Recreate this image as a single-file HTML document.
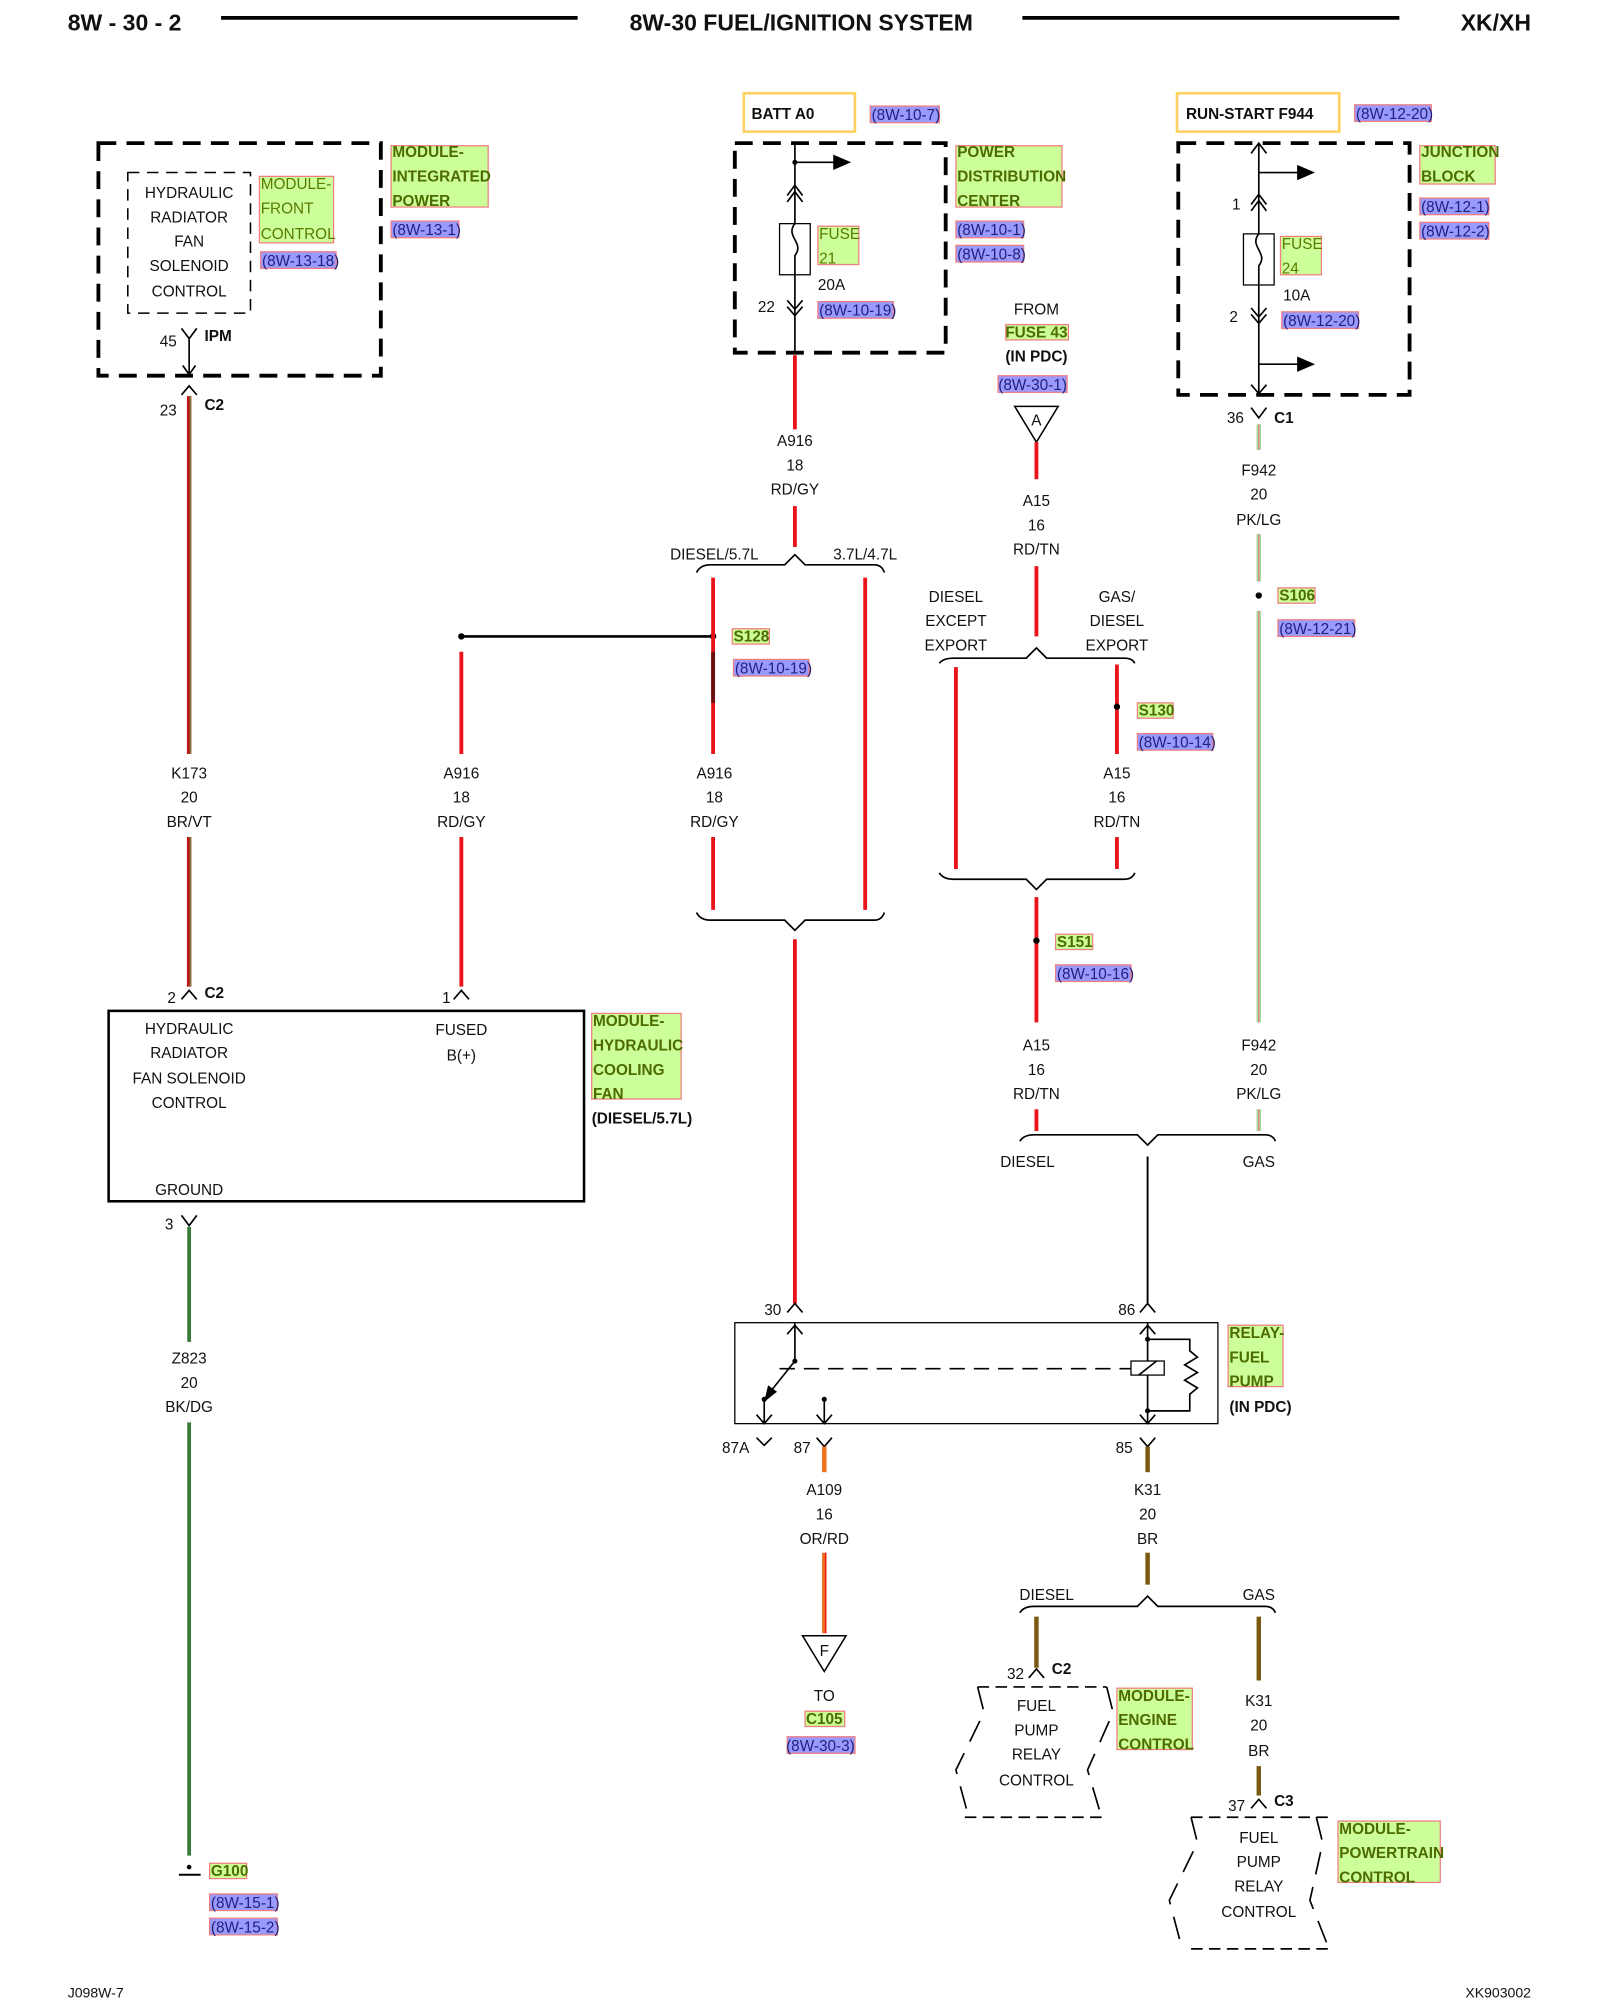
<!DOCTYPE html>
<html><head><meta charset="utf-8"><style>
html,body{margin:0;padding:0;background:#fff}
svg{display:block}
text{font-family:"Liberation Sans",Arial,sans-serif;font-size:12px;fill:#111}
.c{text-anchor:middle}
.b{font-weight:bold}
.h{font-size:18px;font-weight:bold}
.g{fill:#4d6b00;font-weight:bold}
.gn{fill:#5a7a00}
.bl{fill:#22227a}
.gb{fill:#ccff99;stroke:#f08080;stroke-width:1}
.bb{fill:#9999ff;stroke:#f08080;stroke-width:1}
.k{stroke:#000;fill:none;stroke-width:1.3}
.d{stroke:#000;fill:none;stroke-width:3;stroke-dasharray:14 8}
.dt{stroke:#000;fill:none;stroke-width:1.2;stroke-dasharray:9 6}
.r{stroke:#e8141a;stroke-width:3;fill:none}
.br{stroke:#7a5a10;stroke-width:3.5;fill:none}
.or{stroke:#f07020;stroke-width:3.5;fill:none}
.gr{stroke:#3a7a3a;stroke-width:3;fill:none}
.pk{stroke:#9fd89f;stroke-width:3.5;fill:none}
</style></head><body>
<svg width="1600" height="2000" viewBox="0 0 1252 1565" preserveAspectRatio="none" xmlns="http://www.w3.org/2000/svg">
<text x="53" y="24" class="h">8W - 30 - 2</text>
<line x1="173" y1="14" x2="452" y2="14" stroke="#000" stroke-width="3"/>
<text x="627" y="24" class="h c">8W-30 FUEL/IGNITION SYSTEM</text>
<line x1="800" y1="14" x2="1095" y2="14" stroke="#000" stroke-width="3"/>
<text x="1198" y="24" class="h" text-anchor="end">XK/XH</text>
<text x="53" y="1563" style="font-size:11px">J098W-7</text>
<text x="1198" y="1563" style="font-size:11px" text-anchor="end">XK903002</text>

<rect x="77" y="112" width="221" height="182" class="d"/>
<rect x="100" y="135" width="96" height="110" class="dt"/>
<text x="148" y="155" class="c">HYDRAULIC</text><text x="148" y="174" class="c">RADIATOR</text><text x="148" y="193" class="c">FAN</text><text x="148" y="212" class="c">SOLENOID</text><text x="148" y="232" class="c">CONTROL</text>
<rect x="203" y="138" width="58" height="52" class="gb"/>
<text x="204" y="148" class="gn">MODULE-</text><text x="204" y="167" class="gn">FRONT</text><text x="204" y="187" class="gn">CONTROL</text>
<rect x="204" y="197" width="59" height="13" class="bb"/><text x="205" y="208" class="bl">(8W-13-18)</text>
<rect x="306" y="114" width="76" height="48" class="gb"/>
<text x="307" y="123" class="g">MODULE-</text><text x="307" y="142" class="g">INTEGRATED</text><text x="307" y="161" class="g">POWER</text>
<rect x="306" y="173" width="53" height="13" class="bb"/><text x="307" y="184" class="bl">(8W-13-1)</text>
<path d="M142 257 L148 265 L154 257 M148 265 V292 M143 286 L148 293 L153 286" class="k"/>
<text x="125" y="271">45</text><text x="160" y="267" class="b">IPM</text>
<path d="M142 309 L148 302 L154 309" class="k"/>
<text x="125" y="325">23</text><text x="160" y="321" class="b">C2</text>
<line x1="148" y1="310" x2="148" y2="590" stroke="#c0181a" stroke-width="3.5"/>
<line x1="149" y1="310" x2="149" y2="590" stroke="#6a8a3a" stroke-width="1"/>
<text x="148" y="609" class="c">K173</text><text x="148" y="628" class="c">20</text><text x="148" y="647" class="c">BR/VT</text>
<line x1="148" y1="655" x2="148" y2="772" stroke="#c0181a" stroke-width="3.5"/>
<line x1="149" y1="655" x2="149" y2="772" stroke="#6a8a3a" stroke-width="1"/>
<path d="M142 782 L148 775 L154 782" class="k"/>
<text x="131" y="785">2</text><text x="160" y="781" class="b">C2</text>

<rect x="85" y="791" width="372" height="149" fill="none" stroke="#000" stroke-width="2"/>
<text x="148" y="809" class="c">HYDRAULIC</text><text x="148" y="828" class="c">RADIATOR</text><text x="148" y="848" class="c">FAN SOLENOID</text><text x="148" y="867" class="c">CONTROL</text>
<text x="148" y="935" class="c">GROUND</text>
<text x="361" y="810" class="c">FUSED</text><text x="361" y="830" class="c">B(+)</text>
<rect x="463" y="793" width="70" height="67" class="gb"/>
<text x="464" y="803" class="g">MODULE-</text><text x="464" y="822" class="g">HYDRAULIC</text><text x="464" y="841" class="g">COOLING</text><text x="464" y="860" class="g">FAN</text>
<text x="463" y="879" class="b">(DIESEL/5.7L)</text>
<path d="M142 951 L148 959 L154 951" class="k"/>
<text x="129" y="962">3</text>
<line x1="148" y1="960" x2="148" y2="1050" class="gr"/>
<text x="148" y="1067" class="c">Z823</text><text x="148" y="1086" class="c">20</text><text x="148" y="1105" class="c">BK/DG</text>
<line x1="148" y1="1113" x2="148" y2="1452" class="gr"/>
<line x1="140" y1="1467" x2="157" y2="1467" stroke="#000" stroke-width="1.5"/>
<circle cx="148" cy="1461" r="1.8"/>
<rect x="164" y="1458" width="29" height="12" class="gb"/><text x="165" y="1468" class="g">G100</text>
<rect x="164" y="1482" width="53" height="13" class="bb"/><text x="165" y="1493" class="bl">(8W-15-1)</text>
<rect x="164" y="1501" width="53" height="13" class="bb"/><text x="165" y="1512" class="bl">(8W-15-2)</text>

<circle cx="361" cy="498" r="2.5"/>
<line x1="361" y1="498" x2="558" y2="498" stroke="#000" stroke-width="2"/>
<circle cx="558" cy="498" r="2.5"/>
<line x1="361" y1="510" x2="361" y2="590" class="r"/>
<text x="361" y="609" class="c">A916</text><text x="361" y="628" class="c">18</text><text x="361" y="647" class="c">RD/GY</text>
<line x1="361" y1="655" x2="361" y2="772" class="r"/>
<path d="M355 782 L361 775 L367 782" class="k"/>
<text x="346" y="785">1</text>

<rect x="582" y="73" width="87" height="30" fill="none" stroke="#ffd060" stroke-width="2"/>
<text x="588" y="93" class="b">BATT A0</text>
<rect x="681" y="83" width="54" height="13" class="bb"/><text x="682" y="94" class="bl">(8W-10-7)</text>
<rect x="575" y="112" width="165" height="164" class="d"/>
<path d="M622 112 V276" class="k"/>
<circle cx="622" cy="127" r="2"/>
<path d="M622 127 H656" class="k"/><path d="M652 121 L666 127 L652 133 Z"/>
<path d="M616 153 L622 145 L628 153 M616 158 L622 150 L628 158" class="k"/>
<rect x="610" y="175" width="24" height="40" fill="#fff" stroke="#000" stroke-width="1"/>
<path d="M622 175 C614 185 630 190 622 200 V215" class="k"/>
<rect x="640" y="177" width="32" height="30" class="gb"/><text x="641" y="187" class="gn">FUSE</text><text x="641" y="206" class="gn">21</text>
<text x="640" y="227">20A</text>
<rect x="640" y="236" width="59" height="13" class="bb"/><text x="641" y="247" class="bl">(8W-10-19)</text>
<path d="M616 235 L622 242 L628 235 M616 240 L622 247 L628 240" class="k"/>
<text x="593" y="244">22</text>
<rect x="748" y="114" width="83" height="48" class="gb"/>
<text x="749" y="123" class="g">POWER</text><text x="749" y="142" class="g">DISTRIBUTION</text><text x="749" y="161" class="g">CENTER</text>
<rect x="748" y="173" width="53" height="13" class="bb"/><text x="749" y="184" class="bl">(8W-10-1)</text>
<rect x="748" y="192" width="53" height="13" class="bb"/><text x="749" y="203" class="bl">(8W-10-8)</text>

<line x1="622" y1="278" x2="622" y2="336" class="r"/>
<text x="622" y="349" class="c">A916</text><text x="622" y="368" class="c">18</text><text x="622" y="387" class="c">RD/GY</text>
<line x1="622" y1="396" x2="622" y2="428" class="r"/>
<path d="M545 448 Q548 442 556 442 H614 L622 434 L630 442 H684 Q690 442 692 448" class="k"/>
<text x="559" y="438" class="c">DIESEL/5.7L</text><text x="677" y="438" class="c">3.7L/4.7L</text>
<line x1="558" y1="452" x2="558" y2="590" class="r"/>
<line x1="558" y1="510" x2="558" y2="550" stroke="#6a1010" stroke-width="3"/>
<line x1="677" y1="452" x2="677" y2="712" class="r"/>
<rect x="573" y="492" width="29" height="12" class="gb"/><text x="574" y="502" class="g">S128</text>
<rect x="574" y="516" width="59" height="13" class="bb"/><text x="575" y="527" class="bl">(8W-10-19)</text>
<text x="559" y="609" class="c">A916</text><text x="559" y="628" class="c">18</text><text x="559" y="647" class="c">RD/GY</text>
<line x1="558" y1="655" x2="558" y2="712" class="r"/>
<path d="M545 714 Q548 720 556 720 H614 L622 728 L630 720 H684 Q690 720 692 714" class="k"/>
<line x1="622" y1="735" x2="622" y2="1020" class="r"/>
<path d="M616 1027 L622 1020 L628 1027" class="k"/>
<text x="598" y="1029">30</text>

<text x="811" y="246" class="c">FROM</text>
<rect x="787" y="254" width="49" height="12" class="gb"/><text x="811" y="264" class="g c">FUSE 43</text>
<text x="811" y="283" class="b c">(IN PDC)</text>
<rect x="781" y="294" width="54" height="13" class="bb"/><text x="808" y="305" class="bl c">(8W-30-1)</text>
<path d="M794 318 H828 L811 346 Z" fill="#fff" stroke="#000" stroke-width="1.2"/>
<text x="811" y="333" class="c">A</text>
<line x1="811" y1="346" x2="811" y2="375" class="r"/>
<text x="811" y="396" class="c">A15</text><text x="811" y="415" class="c">16</text><text x="811" y="434" class="c">RD/TN</text>
<line x1="811" y1="443" x2="811" y2="498" class="r"/>
<path d="M735 519 Q738 515 746 515 H803 L811 507 L819 515 H880 Q886 515 888 519" class="k"/>
<text x="748" y="471" class="c">DIESEL</text><text x="748" y="490" class="c">EXCEPT</text><text x="748" y="509" class="c">EXPORT</text>
<text x="874" y="471" class="c">GAS/</text><text x="874" y="490" class="c">DIESEL</text><text x="874" y="509" class="c">EXPORT</text>
<line x1="748" y1="522" x2="748" y2="680" class="r"/>
<line x1="874" y1="520" x2="874" y2="590" class="r"/>
<circle cx="874" cy="553" r="2.5"/>
<rect x="890" y="550" width="28" height="12" class="gb"/><text x="891" y="560" class="g">S130</text>
<rect x="890" y="574" width="59" height="13" class="bb"/><text x="891" y="585" class="bl">(8W-10-14)</text>
<text x="874" y="609" class="c">A15</text><text x="874" y="628" class="c">16</text><text x="874" y="647" class="c">RD/TN</text>
<line x1="874" y1="655" x2="874" y2="680" class="r"/>
<path d="M735 683 Q738 688 746 688 H803 L811 696 L819 688 H880 Q886 688 888 683" class="k"/>
<line x1="811" y1="702" x2="811" y2="800" class="r"/>
<circle cx="811" cy="736" r="2.5"/>
<rect x="826" y="731" width="29" height="12" class="gb"/><text x="827" y="741" class="g">S151</text>
<rect x="826" y="755" width="59" height="13" class="bb"/><text x="827" y="766" class="bl">(8W-10-16)</text>
<text x="811" y="822" class="c">A15</text><text x="811" y="841" class="c">16</text><text x="811" y="860" class="c">RD/TN</text>
<line x1="811" y1="868" x2="811" y2="885" class="r"/>

<rect x="921" y="73" width="127" height="30" fill="none" stroke="#ffd060" stroke-width="2"/>
<text x="928" y="93" class="b">RUN-START F944</text>
<rect x="1060" y="82" width="60" height="13" class="bb"/><text x="1061" y="93" class="bl">(8W-12-20)</text>
<rect x="922" y="112" width="181" height="197" class="d"/>
<path d="M985 112 V309" class="k"/>
<path d="M979 120 L985 112 L991 120" class="k"/>
<path d="M985 135 H1018" class="k"/><path d="M1015 129 L1029 135 L1015 141 Z"/>
<path d="M979 160 L985 152 L991 160 M979 165 L985 157 L991 165" class="k"/>
<text x="964" y="164">1</text>
<rect x="973" y="183" width="24" height="40" fill="#fff" stroke="#000" stroke-width="1"/>
<path d="M985 183 C977 193 993 198 985 208 V223" class="k"/>
<rect x="1002" y="185" width="32" height="30" class="gb"/><text x="1003" y="195" class="gn">FUSE</text><text x="1003" y="214" class="gn">24</text>
<text x="1004" y="235">10A</text>
<path d="M979 241 L985 248 L991 241 M979 246 L985 253 L991 246" class="k"/>
<text x="962" y="252">2</text>
<rect x="1003" y="244" width="60" height="13" class="bb"/><text x="1004" y="255" class="bl">(8W-12-20)</text>
<path d="M985 285 H1018" class="k"/><path d="M1015 279 L1029 285 L1015 291 Z"/>
<path d="M979 301 L985 308 L991 301" class="k"/>
<rect x="1111" y="114" width="59" height="30" class="gb"/><text x="1112" y="123" class="g">JUNCTION</text><text x="1112" y="142" class="g">BLOCK</text>
<rect x="1111" y="155" width="54" height="13" class="bb"/><text x="1112" y="166" class="bl">(8W-12-1)</text>
<rect x="1111" y="174" width="54" height="13" class="bb"/><text x="1112" y="185" class="bl">(8W-12-2)</text>
<path d="M979 319 L985 327 L991 319" class="k"/>
<text x="960" y="331">36</text><text x="997" y="331" class="b">C1</text>
<line x1="985" y1="332" x2="985" y2="352" class="pk"/><line x1="985" y1="332" x2="985" y2="352" stroke="#f08080" stroke-width="1"/>
<text x="985" y="372" class="c">F942</text><text x="985" y="391" class="c">20</text><text x="985" y="411" class="c">PK/LG</text>
<line x1="985" y1="418" x2="985" y2="455" class="pk"/><line x1="985" y1="418" x2="985" y2="455" stroke="#f08080" stroke-width="1"/>
<circle cx="985" cy="466" r="2.5"/>
<rect x="1000" y="460" width="29" height="12" class="gb"/><text x="1001" y="470" class="g">S106</text>
<rect x="1000" y="485" width="60" height="13" class="bb"/><text x="1001" y="496" class="bl">(8W-12-21)</text>
<line x1="985" y1="478" x2="985" y2="800" class="pk"/><line x1="985" y1="478" x2="985" y2="800" stroke="#f08080" stroke-width="1"/>
<text x="985" y="822" class="c">F942</text><text x="985" y="841" class="c">20</text><text x="985" y="860" class="c">PK/LG</text>
<line x1="985" y1="868" x2="985" y2="885" class="pk"/><line x1="985" y1="868" x2="985" y2="885" stroke="#f08080" stroke-width="1"/>
<path d="M798 893 Q801 888 809 888 H890 L898 896 L906 888 H990 Q996 888 998 893" class="k"/>
<text x="804" y="913" class="c">DIESEL</text><text x="985" y="913" class="c">GAS</text>
<line x1="898" y1="905" x2="898" y2="1020" stroke="#000" stroke-width="1.5"/>
<path d="M892 1027 L898 1020 L904 1027" class="k"/>
<text x="875" y="1029">86</text>

<rect x="575" y="1035" width="378" height="79" fill="none" stroke="#000" stroke-width="1"/>
<path d="M622 1035 V1065 M616 1044 L622 1037 L628 1044" class="k"/>
<circle cx="622" cy="1065" r="2"/>
<path d="M622 1065 L602 1090" class="k"/><path d="M598 1097 L601 1084 L608 1089 Z"/>
<circle cx="598" cy="1095" r="2"/>
<path d="M598 1095 V1114 M592 1107 L598 1114 L604 1107" class="k"/>
<circle cx="645" cy="1095" r="2"/>
<path d="M645 1095 V1114 M639 1107 L645 1114 L651 1107" class="k"/>
<line x1="610" y1="1071" x2="885" y2="1071" stroke="#000" stroke-width="1.2" stroke-dasharray="12 7"/>
<rect x="885" y="1065" width="26" height="11" fill="#fff" stroke="#000" stroke-width="1"/>
<path d="M891 1076 L905 1065" class="k"/>
<path d="M898 1035 V1065 M898 1076 V1114 M892 1044 L898 1037 L904 1044 M892 1107 L898 1114 L904 1107" class="k"/>
<circle cx="898" cy="1048" r="2"/><circle cx="898" cy="1104" r="2"/>
<path d="M898 1048 H931 V1057 L937 1062 L927 1068 L937 1074 L927 1080 L937 1086 L931 1091 V1104 H898" class="k"/>
<rect x="961" y="1037" width="43" height="48" class="gb"/><text x="962" y="1047" class="g">RELAY-</text><text x="962" y="1066" class="g">FUEL</text><text x="962" y="1085" class="g">PUMP</text>
<text x="962" y="1105" class="b">(IN PDC)</text>
<path d="M592 1125 L598 1131 L604 1125" class="k"/><text x="565" y="1137">87A</text>
<path d="M639 1125 L645 1132 L651 1125" class="k"/><text x="621" y="1137">87</text>
<path d="M892 1125 L898 1132 L904 1125" class="k"/><text x="873" y="1137">85</text>
<line x1="645" y1="1132" x2="645" y2="1152" class="or"/>
<text x="645" y="1170" class="c">A109</text><text x="645" y="1189" class="c">16</text><text x="645" y="1208" class="c">OR/RD</text>
<line x1="645" y1="1215" x2="645" y2="1278" class="or"/><line x1="646" y1="1215" x2="646" y2="1278" stroke="#e8141a" stroke-width="1"/>
<path d="M628 1280 H662 L645 1308 Z" fill="#fff" stroke="#000" stroke-width="1.2"/>
<text x="645" y="1296" class="c">F</text>
<text x="645" y="1331" class="c">TO</text>
<rect x="630" y="1339" width="31" height="12" class="gb"/><text x="645" y="1349" class="g c">C105</text>
<rect x="616" y="1359" width="53" height="13" class="bb"/><text x="642" y="1370" class="bl c">(8W-30-3)</text>
<line x1="898" y1="1132" x2="898" y2="1152" class="br"/>
<text x="898" y="1170" class="c">K31</text><text x="898" y="1189" class="c">20</text><text x="898" y="1208" class="c">BR</text>
<line x1="898" y1="1215" x2="898" y2="1240" class="br"/>
<path d="M798 1262 Q801 1257 809 1257 H890 L898 1249 L906 1257 H990 Q996 1257 998 1262" class="k"/>
<text x="819" y="1252" class="c">DIESEL</text><text x="985" y="1252" class="c">GAS</text>
<line x1="811" y1="1265" x2="811" y2="1305" class="br"/>
<path d="M805 1313 L811 1306 L817 1313" class="k"/>
<text x="788" y="1314">32</text><text x="823" y="1310" class="b">C2</text>
<path d="M765 1320 H866 M755 1422 H866" class="k" stroke-width="2" stroke-dasharray="9 5"/>
<path d="M765 1320 L770 1340 L748 1385 L758 1422 M866 1320 L871 1340 L851 1385 L862 1422" class="k" stroke-dasharray="18 10"/>
<text x="811" y="1339" class="c">FUEL</text><text x="811" y="1358" class="c">PUMP</text><text x="811" y="1377" class="c">RELAY</text><text x="811" y="1397" class="c">CONTROL</text>
<rect x="874" y="1321" width="59" height="48" class="gb"/><text x="875" y="1331" class="g">MODULE-</text><text x="875" y="1350" class="g">ENGINE</text><text x="875" y="1369" class="g">CONTROL</text>
<line x1="985" y1="1265" x2="985" y2="1315" class="br"/>
<text x="985" y="1335" class="c">K31</text><text x="985" y="1354" class="c">20</text><text x="985" y="1374" class="c">BR</text>
<line x1="985" y1="1382" x2="985" y2="1405" class="br"/>
<path d="M979 1415 L985 1408 L991 1415" class="k"/>
<text x="961" y="1417">37</text><text x="997" y="1413" class="b">C3</text>
<path d="M932 1422 H1040 M932 1525 H1040" class="k" stroke-width="2" stroke-dasharray="9 5"/>
<path d="M932 1422 L937 1442 L915 1487 L925 1525 M1030 1422 L1035 1442 L1025 1487 L1040 1525" class="k" stroke-dasharray="18 10"/>
<text x="985" y="1442" class="c">FUEL</text><text x="985" y="1461" class="c">PUMP</text><text x="985" y="1480" class="c">RELAY</text><text x="985" y="1500" class="c">CONTROL</text>
<rect x="1047" y="1425" width="80" height="48" class="gb"/><text x="1048" y="1435" class="g">MODULE-</text><text x="1048" y="1454" class="g">POWERTRAIN</text><text x="1048" y="1473" class="g">CONTROL</text>
</svg>
</body></html>
